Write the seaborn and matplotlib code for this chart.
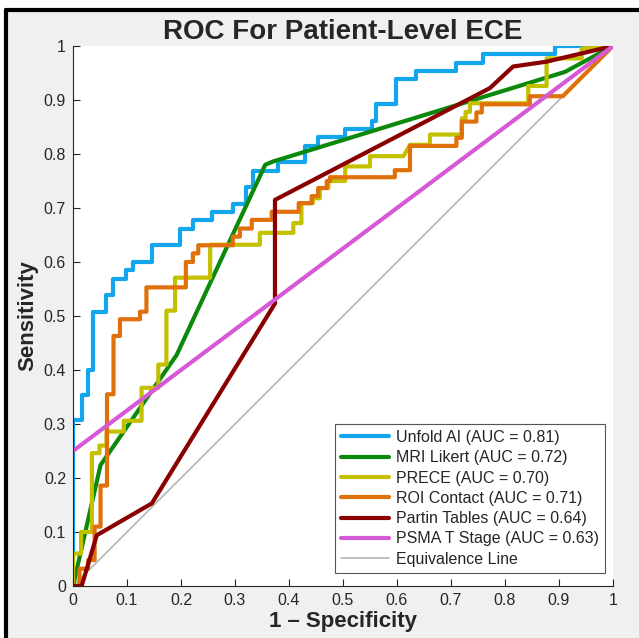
# Import libraries
import matplotlib
matplotlib.use("Agg")
import matplotlib.pyplot as plt
import seaborn as sns
from matplotlib.patches import Rectangle
from matplotlib.lines import Line2D

# Set visualization style
sns.set_theme(style="white")
plt.rcParams["font.family"] = ["Liberation Sans", "DejaVu Sans"]

# ROC curves (1 - specificity, sensitivity)
unfold_fpr = [0, 0, 0.016, 0.016, 0.027, 0.027, 0.037, 0.037, 0.062, 0.062, 0.074, 0.074,
              0.099, 0.099, 0.111, 0.111, 0.146, 0.146, 0.198, 0.198, 0.222, 0.222, 0.257, 0.257,
              0.296, 0.296, 0.32, 0.32, 0.333, 0.333, 0.38, 0.38, 0.43, 0.43, 0.454, 0.454,
              0.504, 0.504, 0.553, 0.553, 0.562, 0.562, 0.599, 0.599, 0.636, 0.636, 0.71, 0.71,
              0.76, 0.76, 0.893, 0.893, 1]
unfold_tpr = [0, 0.307, 0.307, 0.354, 0.354, 0.40, 0.40, 0.508, 0.508, 0.539, 0.539, 0.569,
              0.569, 0.585, 0.585, 0.600, 0.600, 0.631, 0.631, 0.662, 0.662, 0.677, 0.677, 0.692,
              0.692, 0.708, 0.708, 0.738, 0.738, 0.769, 0.769, 0.785, 0.785, 0.815, 0.815, 0.831,
              0.831, 0.846, 0.846, 0.862, 0.862, 0.892, 0.892, 0.938, 0.938, 0.954, 0.954, 0.969,
              0.969, 0.985, 0.985, 1.0, 1.0]

likert_fpr = [0, 0.051, 0.192, 0.356, 0.37, 0.911, 1]
likert_tpr = [0, 0.224, 0.428, 0.78, 0.786, 0.952, 1]

prece_fpr = [0, 0, 0.015, 0.015, 0.035, 0.035, 0.049, 0.049, 0.062, 0.062, 0.094, 0.094,
             0.127, 0.127, 0.158, 0.158, 0.173, 0.173, 0.189, 0.189, 0.254, 0.254, 0.346, 0.346,
             0.408, 0.408, 0.423, 0.423, 0.444, 0.444, 0.457, 0.457, 0.473, 0.473, 0.504, 0.504,
             0.55, 0.55, 0.612, 0.624, 0.661, 0.661, 0.72, 0.72, 0.727, 0.727, 0.735, 0.735,
             0.843, 0.843, 0.877, 0.877, 0.942, 0.942, 1]
prece_tpr = [0, 0.06, 0.06, 0.10, 0.10, 0.246, 0.246, 0.26, 0.26, 0.286, 0.286, 0.306,
             0.306, 0.367, 0.367, 0.41, 0.41, 0.51, 0.51, 0.571, 0.571, 0.632, 0.632, 0.654,
             0.654, 0.672, 0.672, 0.709, 0.709, 0.718, 0.718, 0.737, 0.737, 0.75, 0.75, 0.777,
             0.777, 0.796, 0.796, 0.817, 0.817, 0.836, 0.836, 0.866, 0.866, 0.878, 0.878, 0.894,
             0.894, 0.926, 0.926, 0.977, 0.977, 0.995, 1]

roi_fpr = [0, 0.012, 0.012, 0.028, 0.028, 0.04, 0.04, 0.051, 0.051, 0.063, 0.063, 0.075,
           0.075, 0.087, 0.087, 0.124, 0.124, 0.136, 0.136, 0.209, 0.209, 0.222, 0.222, 0.232,
           0.232, 0.296, 0.296, 0.309, 0.309, 0.331, 0.331, 0.368, 0.368, 0.418, 0.418, 0.442,
           0.442, 0.454, 0.454, 0.47, 0.47, 0.476, 0.476, 0.596, 0.596, 0.624, 0.624, 0.71,
           0.71, 0.72, 0.72, 0.747, 0.747, 0.757, 0.757, 0.846, 0.846, 0.907, 1]
roi_tpr = [0, 0, 0.032, 0.032, 0.048, 0.048, 0.11, 0.11, 0.186, 0.186, 0.355, 0.355,
           0.463, 0.463, 0.494, 0.494, 0.508, 0.508, 0.553, 0.553, 0.60, 0.60, 0.616, 0.616,
           0.631, 0.631, 0.647, 0.647, 0.662, 0.662, 0.678, 0.678, 0.693, 0.693, 0.709, 0.709,
           0.722, 0.722, 0.737, 0.737, 0.75, 0.75, 0.757, 0.757, 0.77, 0.77, 0.815, 0.815,
           0.83, 0.83, 0.86, 0.86, 0.877, 0.877, 0.892, 0.892, 0.907, 0.907, 1]

partin_fpr = [0, 0.016, 0.044, 0.146, 0.374, 0.374, 0.772, 0.815, 0.877, 1]
partin_tpr = [0, 0, 0.094, 0.153, 0.523, 0.715, 0.922, 0.962, 0.971, 1]

psma_fpr = [0, 1]
psma_tpr = [0.25, 1]

curves = [
    ("Unfold AI (AUC = 0.81)", unfold_fpr, unfold_tpr, "#13a6ec"),
    ("MRI Likert (AUC = 0.72)", likert_fpr, likert_tpr, "#0a890a"),
    ("PRECE (AUC = 0.70)", prece_fpr, prece_tpr, "#c3c000"),
    ("ROI Contact (AUC = 0.71)", roi_fpr, roi_tpr, "#e0700a"),
    ("Partin Tables (AUC = 0.64)", partin_fpr, partin_tpr, "#8a0000"),
    ("PSMA T Stage (AUC = 0.63)", psma_fpr, psma_tpr, "#d65ad6"),
]

fig = plt.figure(figsize=(6.39, 6.38), dpi=100, facecolor="white")
# screenshot frame: grey panel with black left/top edge
fig.patches.append(Rectangle((6 / 639, 0), 1, 1 - 10 / 638, transform=fig.transFigure,
                             facecolor="#f0f0f0", edgecolor="none", zorder=-5))
fig.add_artist(Line2D([6 / 639, 1], [1 - 10 / 638, 1 - 10 / 638], color="black", lw=3))
fig.add_artist(Line2D([6 / 639, 6 / 639], [0, 1 - 10 / 638], color="black", lw=3))

ax = fig.add_axes([73 / 639, 1 - 586 / 638, 540 / 639, 540 / 638])
ax.set_facecolor("white")

for name, fpr, tpr, color in curves:
    sns.lineplot(x=fpr, y=tpr, sort=False, estimator=None, color=color,
                 linewidth=3, label=name, ax=ax)

sns.lineplot(x=[0, 1], y=[0, 1], sort=False, estimator=None, color="#b4b4b4",
             linewidth=1.2, label="Equivalence Line", ax=ax, zorder=1)

ticks = [0, 0.1, 0.2, 0.3, 0.4, 0.5, 0.6, 0.7, 0.8, 0.9, 1]
tick_labels = ["0", "0.1", "0.2", "0.3", "0.4", "0.5", "0.6", "0.7", "0.8", "0.9", "1"]
ax.set_xlim(0, 1)
ax.set_ylim(0, 1)
ax.set_xticks(ticks)
ax.set_xticklabels(tick_labels)
ax.set_yticks(ticks)
ax.set_yticklabels(tick_labels)
ax.tick_params(direction="in", length=5, width=0.8, colors="#262626", labelsize=11.5,
               bottom=True, left=True, pad=5)

for side in ["top", "right"]:
    ax.spines[side].set_visible(False)
for side in ["left", "bottom"]:
    ax.spines[side].set_color("#262626")
    ax.spines[side].set_linewidth(0.8)

ax.set_title("ROC For Patient-Level ECE", fontsize=20, fontweight="bold", color="#262626", pad=5)
ax.set_xlabel("1 \u2013 Specificity", fontsize=16, fontweight="bold", color="#262626", labelpad=2)
ax.set_ylabel("Sensitivity", fontsize=16, fontweight="bold", color="#262626", labelpad=4)

leg = ax.legend(loc="lower right", bbox_to_anchor=(0.985, 0.024), borderaxespad=0,
                fontsize=11.5, frameon=True, fancybox=False, framealpha=1,
                edgecolor="#555555", handlelength=3.0, handletextpad=0.4,
                labelspacing=0.33, borderpad=0.4)
leg.get_frame().set_linewidth(0.8)

plt.savefig("out.png", dpi=100, facecolor=fig.get_facecolor())
